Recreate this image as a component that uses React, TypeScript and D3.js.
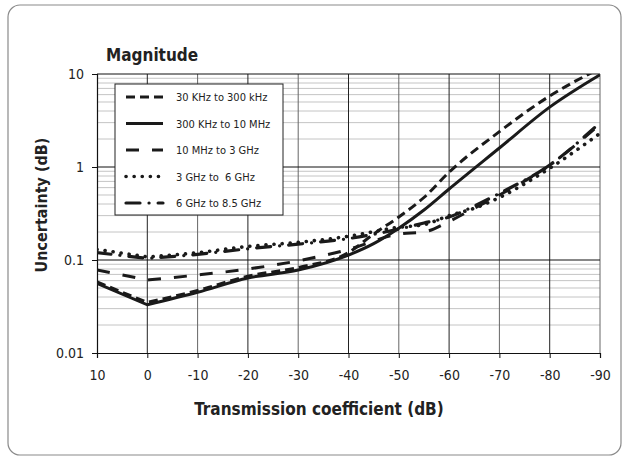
import React, { useEffect, useRef } from 'react';
import * as d3 from 'd3';

// transmission coefficient (dB) sample points
const xShort = [10, 0, -10, -20, -30, -40, -45, -50, -55, -60, -70, -80, -90];
const xLong = [10, 0, -10, -20, -30, -40, -50, -55, -60, -65, -70, -80, -90];

// uncertainty (dB)
const band30k = [0.058, 0.035, 0.047, 0.067, 0.083, 0.12, 0.19, 0.29, 0.47, 0.88, 2.4, 5.8, 11.5];
const band300k = [0.056, 0.033, 0.045, 0.064, 0.078, 0.113, 0.15, 0.22, 0.345, 0.58, 1.6, 4.4, 9.8];
const band10M = [0.078, 0.061, 0.069, 0.08, 0.098, 0.13, 0.19, 0.2, 0.26, 0.36, 0.5, 1.05, 2.9];
const band3G = [0.13, 0.108, 0.12, 0.14, 0.155, 0.18, 0.225, 0.24, 0.3, 0.36, 0.47, 0.97, 2.3];
const band6G = [0.12, 0.104, 0.115, 0.132, 0.148, 0.17, 0.215, 0.25, 0.29, 0.38, 0.52, 1.05, 3.0];

const xTicks = [10, 0, -10, -20, -30, -40, -50, -60, -70, -80, -90];
const yTicks = [0.01, 0.1, 1, 10];

const seriesList = [
    { name: '30 KHz to 300 kHz', xs: xShort, ys: band30k, dash: '9,5', cap: 'butt', w: 3 },
    { name: '300 KHz to 10 MHz', xs: xShort, ys: band300k, dash: null, cap: 'butt', w: 3 },
    { name: '10 MHz to 3 GHz', xs: xLong, ys: band10M, dash: '13,13', cap: 'butt', w: 3 },
    { name: '3 GHz to  6 GHz', xs: xLong, ys: band3G, dash: '0.1,8', cap: 'round', w: 3.6 },
    { name: '6 GHz to 8.5 GHz', xs: xLong, ys: band6G, dash: '14,9,0.1,9', cap: 'round', w: 3.2 },
];

const FONT = '"DejaVu Sans Condensed", "Liberation Sans Narrow", Roboto, sans-serif';

export default function App() {
    const svgRef = useRef<SVGSVGElement | null>(null);

    useEffect(() => {
        if (!svgRef.current) return;
        const svg = d3.select(svgRef.current);
        svg.selectAll('*').remove();

        const width = 623;
        const height = 457;
        const left = 97, right = 600, top = 74, bottom = 353;

        svg.attr('width', width).attr('height', height);

        // outer frame
        svg.append('rect')
            .attr('x', 8).attr('y', 5)
            .attr('width', 613).attr('height', 450)
            .attr('rx', 12)
            .attr('fill', 'white')
            .attr('stroke', '#8a8a8a')
            .attr('stroke-width', 1.2);

        const x = d3.scaleLinear().domain([10, -90]).range([left, right]);
        const y = d3.scaleLog().domain([0.01, 10]).range([bottom, top]);

        const grid = svg.append('g');

        // minor horizontal lines
        const minor: number[] = [];
        [0.01, 0.1, 1].forEach(dec => {
            for (let k = 2; k <= 9; k++) minor.push(dec * k);
        });
        grid.selectAll('.minor')
            .data(minor)
            .enter().append('line')
            .attr('x1', left).attr('x2', right)
            .attr('y1', d => y(d)).attr('y2', d => y(d))
            .attr('stroke', '#c4c4c4')
            .attr('stroke-width', 1);

        // vertical lines
        grid.selectAll('.vline')
            .data(xTicks.slice(1))
            .enter().append('line')
            .attr('x1', d => x(d)).attr('x2', d => x(d))
            .attr('y1', top).attr('y2', bottom)
            .attr('stroke', (d, i) => (i % 2 === 0 ? '#222' : '#666'))
            .attr('stroke-width', 1);

        // major horizontal lines
        grid.selectAll('.major')
            .data([1, 0.1, 10])
            .enter().append('line')
            .attr('x1', left).attr('x2', right)
            .attr('y1', d => y(d)).attr('y2', d => y(d))
            .attr('stroke', '#111')
            .attr('stroke-width', 1);

        // axes
        const yAxis = svg.append('g')
            .attr('transform', `translate(${left},0)`)
            .call(d3.axisLeft(y).tickValues(yTicks).tickSize(5).tickFormat(d => String(d)));
        const xAxis = svg.append('g')
            .attr('transform', `translate(0,${bottom})`)
            .call(d3.axisBottom(x).tickValues(xTicks).tickSize(5).tickFormat(d => String(d)));

        [yAxis, xAxis].forEach(a => {
            a.select('.domain').attr('stroke', '#111').attr('stroke-width', 1.2);
            a.selectAll('.tick line').attr('stroke', '#111');
            a.selectAll('.tick text')
                .attr('font-family', FONT)
                .attr('font-size', 14)
                .attr('fill', '#222');
        });
        yAxis.selectAll('.tick text').attr('x', -13);
        xAxis.selectAll('.tick text').attr('y', 17);

        // curves
        const clip = svg.append('clipPath').attr('id', 'plotclip');
        clip.append('rect').attr('x', left).attr('y', top).attr('width', right - left).attr('height', bottom - top);

        const line = d3.line<[number, number]>()
            .x(d => x(d[0]))
            .y(d => y(d[1]))
            .curve(d3.curveMonotoneX);

        const curves = svg.append('g').attr('clip-path', 'url(#plotclip)');
        seriesList.forEach(s => {
            const pts = s.xs.map((v, i) => [v, s.ys[i]] as [number, number]);
            // straight leg from +10 dB down to the 0 dB minimum, smooth after it
            const rest = line(pts.slice(1)) || '';
            const d = `M${x(pts[0][0])},${y(pts[0][1])}L` + rest.slice(1);
            curves.append('path')
                .attr('d', d)
                .attr('fill', 'none')
                .attr('stroke', '#1a1a1a')
                .attr('stroke-width', s.w)
                .attr('stroke-linecap', s.cap)
                .attr('stroke-dasharray', s.dash);
        });

        // legend
        const lg = svg.append('g');
        lg.append('rect')
            .attr('x', 115).attr('y', 84)
            .attr('width', 168).attr('height', 131)
            .attr('fill', 'white')
            .attr('stroke', '#222')
            .attr('stroke-width', 1);
        seriesList.forEach((s, i) => {
            const ly = 97 + i * 26.5;
            lg.append('line')
                .attr('x1', 126).attr('x2', 163)
                .attr('y1', ly).attr('y2', ly)
                .attr('stroke', '#1a1a1a')
                .attr('stroke-width', s.w)
                .attr('stroke-linecap', s.cap)
                .attr('stroke-dasharray', s.dash);
            lg.append('text')
                .attr('x', 176).attr('y', ly + 4)
                .attr('font-family', FONT)
                .attr('font-size', 11)
                .attr('fill', '#222')
                .attr('xml:space', 'preserve')
                .text(s.name);
        });

        // titles
        svg.append('text')
            .attr('x', 106).attr('y', 61)
            .attr('font-family', FONT)
            .attr('font-size', 17)
            .attr('font-weight', 'bold')
            .attr('fill', '#222')
            .text('Magnitude');

        svg.append('text')
            .attr('x', 319).attr('y', 415)
            .attr('text-anchor', 'middle')
            .attr('font-family', FONT)
            .attr('font-size', 17)
            .attr('font-weight', 'bold')
            .attr('fill', '#222')
            .text('Transmission coefficient (dB)');

        svg.append('text')
            .attr('transform', `translate(47,205) rotate(-90)`)
            .attr('text-anchor', 'middle')
            .attr('font-family', FONT)
            .attr('font-size', 16)
            .attr('font-weight', 'bold')
            .attr('fill', '#222')
            .text('Uncertainty (dB)');
    }, []);

    return <svg ref={svgRef} style={{ position: 'absolute', left: 0, top: 0 }}></svg>;
}
